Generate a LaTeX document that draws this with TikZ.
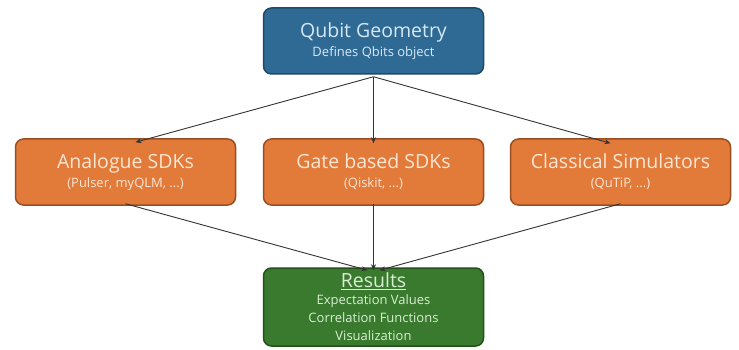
\documentclass[tikz,border=0pt]{standalone}
\usepackage{fontspec}
\setmainfont{Open Sans}
\usetikzlibrary{arrows.meta}
\definecolor{bluefill}{HTML}{2F6A94}
\definecolor{blueedge}{HTML}{1E4A68}
\definecolor{bluetext}{HTML}{D6E8F6}
\definecolor{orfill}{HTML}{E27A3A}
\definecolor{oredge}{HTML}{9A4E22}
\definecolor{ortext}{HTML}{FCE6D4}
\definecolor{grfill}{HTML}{3A7A2E}
\definecolor{gredge}{HTML}{24501C}
\definecolor{grtext}{HTML}{D8EED2}
\definecolor{linkgray}{HTML}{333333}
\tikzset{
  x=1pt, y=-1pt,
  box/.style={rounded corners=8pt, line width=1.5pt, minimum width=220pt,
    minimum height=66pt, align=center, inner sep=2pt,
    font=\fontsize{13}{17}\selectfont},
  bluebox/.style={box, fill=bluefill, draw=blueedge, text=bluetext},
  orbox/.style={box, fill=orfill, draw=oredge, text=ortext},
  grbox/.style={box, fill=grfill, draw=gredge, text=grtext, minimum height=78pt,
    font=\fontsize{13}{18}\selectfont},
  link/.style={draw=linkgray, line width=0.9pt, -{Stealth[length=6pt,width=5pt]}}
}
\newcommand{\hd}[1]{{\fontsize{19.5}{23}\selectfont #1}}
\begin{document}
\begin{tikzpicture}
\useasboundingbox (0,0) rectangle (739,350);
\fill[white] (0,0) rectangle (739,350);
\node[bluebox] (geom) at (373.5,41) {\hd{Qubit Geometry}\\[2pt]Defines Qbits object};
\node[orbox] (ana) at (125.5,172) {\hd{Analogue SDKs}\\[2pt](Pulser, myQLM, ...)};
\node[orbox] (gate) at (373.5,172) {\hd{Gate based SDKs}\\[2pt](Qiskit, ...)};
\node[orbox] (cls) at (620.5,172) {\hd{Classical Simulators}\\[2pt](QuTiP, ...)};
\node[grbox] (res) at (373.5,307) {\hd{\underline{Results}}\\[-1pt]Expectation Values\\Correlation Functions\\Visualization};
\coordinate (g0) at ([yshift=-2pt]geom.south);
\draw[link] (g0) -- ([xshift=10pt,yshift=-4pt]ana.north);
\draw[link] (g0) -- ([yshift=-5pt]gate.north);
\draw[link] (g0) -- ([xshift=-10pt,yshift=-5pt]cls.north);
\draw[link] ([yshift=2pt]ana.south) -- ([xshift=-6pt,yshift=-3pt]res.north);
\draw[link] ([yshift=2pt]gate.south) -- ([yshift=-3pt]res.north);
\draw[link] ([yshift=2pt]cls.south) -- ([xshift=6pt,yshift=-3pt]res.north);
\end{tikzpicture}
\end{document}
